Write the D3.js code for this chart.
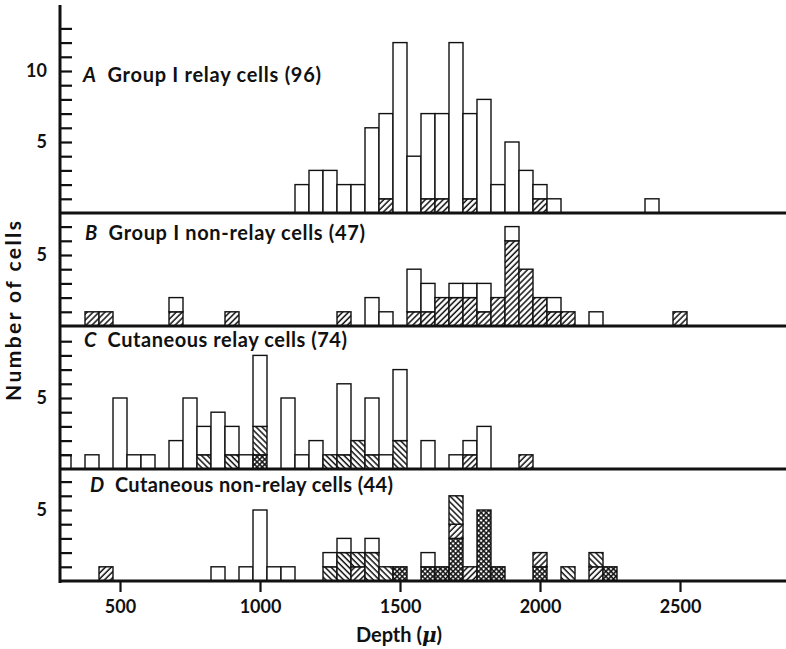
<!DOCTYPE html>
<html>
<head>
<meta charset="utf-8">
<script src="https://cdn.jsdelivr.net/npm/d3@7"></script>
<style>
  body { margin: 0; background: #fff; }
  svg { display: block; }
  text { font-family: Lato, "Open Sans", sans-serif; font-weight: 700; fill: #111; }
</style>
</head>
<body>
<svg id="chart"></svg>
<script>
// depth bins (centre of 50 micron bin) and cell counts per shading
// stack order from the bottom: cross-hatched, forward hatch, back hatch, open
const depthA = [1150, 1200, 1250, 1300, 1350, 1400, 1450, 1500, 1550, 1600, 1650, 1700, 1750, 1800, 1850, 1900, 1950, 2000, 2050, 2400];
const fwdA   = [0, 0, 0, 0, 0, 0, 1, 0, 0, 1, 1, 0, 1, 0, 0, 0, 0, 1, 0, 0];
const openA  = [2, 3, 3, 2, 2, 6, 6, 12, 4, 6, 6, 12, 6, 8, 2, 5, 3, 1, 1, 1];

const depthB = [400, 450, 700, 900, 1300, 1400, 1450, 1550, 1600, 1650, 1700, 1750, 1800, 1850, 1900, 1950, 2000, 2050, 2100, 2200, 2500];
const fwdB   = [1, 1, 1, 1, 1, 0, 0, 1, 1, 2, 2, 2, 1, 2, 6, 4, 2, 1, 1, 0, 1];
const openB  = [0, 0, 1, 0, 0, 2, 1, 3, 2, 0, 1, 1, 2, 0, 1, 0, 0, 1, 0, 1, 0];

const depthC = [300, 400, 500, 550, 600, 700, 750, 800, 850, 900, 950, 1000, 1100, 1150, 1200, 1250, 1300, 1350, 1400, 1450, 1500, 1600, 1700, 1750, 1800, 1950];
const crossC = [0, 0, 0, 0, 0, 0, 0, 0, 0, 0, 0, 1, 0, 0, 0, 0, 0, 0, 0, 0, 0, 0, 0, 0, 0, 0];
const fwdC   = [0, 0, 0, 0, 0, 0, 0, 0, 0, 0, 0, 0, 0, 0, 0, 0, 0, 0, 0, 0, 0, 0, 0, 1, 0, 1];
const backC  = [0, 0, 0, 0, 0, 0, 0, 1, 0, 1, 0, 2, 0, 0, 0, 1, 1, 2, 1, 0, 2, 0, 0, 0, 0, 0];
const openC  = [1, 1, 5, 1, 1, 2, 5, 2, 4, 2, 1, 5, 5, 1, 2, 0, 5, 0, 4, 1, 5, 2, 1, 1, 3, 0];

const depthD = [450, 850, 950, 1000, 1050, 1100, 1250, 1300, 1350, 1400, 1450, 1500, 1600, 1650, 1700, 1750, 1800, 1850, 2000, 2100, 2200, 2250];
const crossD = [0, 0, 0, 0, 0, 0, 0, 0, 0, 0, 0, 1, 1, 1, 3, 0, 5, 1, 1, 0, 0, 1];
const fwdD   = [1, 0, 0, 0, 0, 0, 0, 0, 1, 0, 0, 0, 0, 0, 1, 1, 0, 0, 1, 0, 1, 0];
const backD  = [0, 0, 0, 0, 0, 0, 1, 2, 1, 2, 1, 0, 0, 0, 2, 0, 0, 0, 0, 1, 1, 0];
const openD  = [0, 1, 1, 5, 1, 1, 1, 1, 0, 1, 0, 0, 1, 0, 0, 0, 0, 0, 0, 0, 0, 0];

const titles = ["Group I relay cells (96)", "Group I non-relay cells (47)", "Cutaneous relay cells (74)", "Cutaneous non-relay cells (44)"];
const letters = ["A", "B", "C", "D"];
const xTicks = [500, 1000, 1500, 2000, 2500];
const binWidth = 50;

const W = 786, H = 649;
const svg = d3.select('#chart').attr('width', W).attr('height', H);

const axisX = 60;
const unit = 14.2; // px per cell
const x = d3.scaleLinear().domain([500, 2500]).range([120, 680]);

// patterns
const defs = svg.append('defs');
function linePattern(id, angle) {
    const p = defs.append('pattern').attr('id', id)
        .attr('patternUnits', 'userSpaceOnUse')
        .attr('width', 4.2).attr('height', 4.2)
        .attr('patternTransform', `rotate(${angle})`);
    p.append('rect').attr('width', 4.2).attr('height', 4.2).attr('fill', '#fff');
    p.append('line').attr('x1', 1).attr('x2', 1).attr('y1', 0).attr('y2', 4.2)
        .attr('stroke', '#111').attr('stroke-width', 1.5);
}
linePattern('fwd', 45);
linePattern('back', -45);
const cp = defs.append('pattern').attr('id', 'cross')
    .attr('patternUnits', 'userSpaceOnUse')
    .attr('width', 3.6).attr('height', 3.6)
    .attr('patternTransform', 'rotate(45)');
cp.append('rect').attr('width', 3.6).attr('height', 3.6).attr('fill', '#fff');
cp.append('line').attr('x1', 0.8).attr('x2', 0.8).attr('y1', 0).attr('y2', 3.6).attr('stroke', '#111').attr('stroke-width', 1.5);
cp.append('line').attr('y1', 0.8).attr('y2', 0.8).attr('x1', 0).attr('x2', 3.6).attr('stroke', '#111').attr('stroke-width', 1.5);

const panels = [
    { base: 213, nTicks: 13, labels: [5, 10], title: [83, 82, 238], depth: depthA, parts: { fwd: fwdA, open: openA } },
    { base: 326, nTicks: 7, labels: [5], title: [85, 240, 280], depth: depthB, parts: { fwd: fwdB, open: openB } },
    { base: 469, nTicks: 9, labels: [5], title: [84, 347, 263], depth: depthC, parts: { cross: crossC, fwd: fwdC, back: backC, open: openC } },
    { base: 581, nTicks: 7, labels: [5], title: [90, 492, 303], depth: depthD, parts: { cross: crossD, fwd: fwdD, back: backD, open: openD } }
];
const order = ['cross', 'fwd', 'back', 'open'];
const fills = { cross: 'url(#cross)', fwd: 'url(#fwd)', back: 'url(#back)', open: '#fff' };

panels.forEach((p, pi) => {
    const y = d3.scaleLinear().domain([0, 1]).range([p.base, p.base - unit]);

    // stacked segments
    const segs = [];
    p.depth.forEach((d, i) => {
        let acc = 0;
        order.forEach(k => {
            const v = p.parts[k] ? p.parts[k][i] : 0;
            if (v > 0) {
                segs.push({ d, k, y0: acc, y1: acc + v });
                acc += v;
            }
        });
    });

    svg.append('g').selectAll('rect')
        .data(segs)
        .enter().append('rect')
        .attr('x', s => Math.max(axisX, x(s.d - binWidth / 2)))
        .attr('width', s => x(s.d + binWidth / 2) - Math.max(axisX, x(s.d - binWidth / 2)))
        .attr('y', s => y(s.y1))
        .attr('height', s => y(s.y0) - y(s.y1))
        .attr('fill', s => fills[s.k])
        .attr('stroke', '#111')
        .attr('stroke-width', 1.4);

    // y ticks (inward) with labels at 5 and 10
    const ax = svg.append('g')
        .attr('transform', `translate(${axisX},0)`)
        .call(d3.axisLeft(y)
            .tickValues(d3.range(1, p.nTicks + 1))
            .tickSizeInner(-12).tickSizeOuter(0).tickPadding(13)
            .tickFormat(d => p.labels.includes(d) ? d : ''));
    ax.select('.domain').remove();
    ax.selectAll('.tick line').attr('stroke', '#111').attr('stroke-width', 2.2);
    ax.selectAll('.tick text').attr('font-size', 18).attr('font-family', 'Lato, sans-serif')
        .attr('font-weight', 700).attr('fill', '#111');

    // baseline of the panel
    svg.append('line')
        .attr('x1', axisX).attr('x2', W)
        .attr('y1', p.base).attr('y2', p.base)
        .attr('stroke', '#111').attr('stroke-width', 3);

    // panel title
    const t = svg.append('text')
        .attr('x', p.title[0]).attr('y', p.title[1])
        .attr('font-size', 20)
        .attr('textLength', p.title[2])
        .attr('lengthAdjust', 'spacing');
    t.append('tspan').attr('font-style', 'italic').text(letters[pi]);
    t.append('tspan').text('\u2002' + titles[pi]);
});

// y axis line
svg.append('line')
    .attr('x1', axisX).attr('x2', axisX)
    .attr('y1', 5).attr('y2', 583)
    .attr('stroke', '#111').attr('stroke-width', 3);

// bottom depth axis
const xa = svg.append('g')
    .attr('transform', `translate(0,${panels[3].base})`)
    .call(d3.axisBottom(x).tickValues(xTicks).tickFormat(d3.format('d'))
        .tickSizeInner(11).tickSizeOuter(0).tickPadding(8));
xa.select('.domain').remove();
xa.selectAll('.tick line').attr('stroke', '#111').attr('stroke-width', 2.2);
xa.selectAll('.tick text').attr('font-size', 18).attr('font-family', 'Lato, sans-serif')
    .attr('font-weight', 700).attr('fill', '#111');

const xl = svg.append('text')
    .attr('x', 399).attr('y', 642)
    .attr('text-anchor', 'middle')
    .attr('font-size', 20);
xl.append('tspan').text('Depth (');
xl.append('tspan').attr('font-style', 'italic').attr('font-family', 'DejaVu Serif, serif').text('\u03bc');
xl.append('tspan').text(')');

svg.append('text')
    .attr('transform', 'translate(21,311) rotate(-90)')
    .attr('text-anchor', 'middle')
    .attr('font-size', 21)
    .attr('textLength', 180).attr('lengthAdjust', 'spacing')
    .text('Number of cells');
</script>
</body>
</html>
